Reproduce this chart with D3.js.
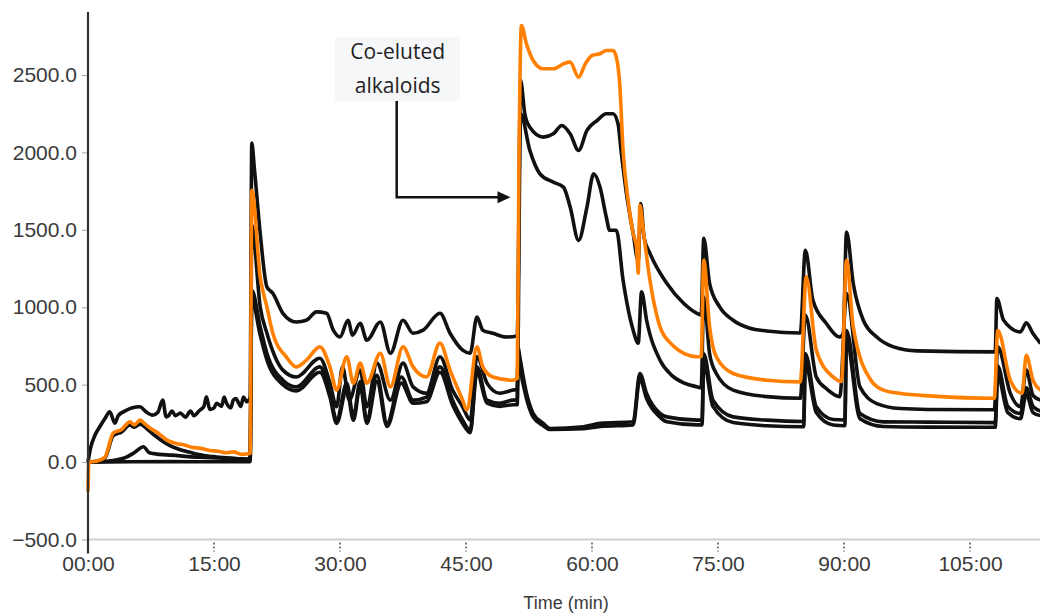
<!DOCTYPE html>
<html>
<head>
<meta charset="utf-8">
<script src="https://cdn.jsdelivr.net/npm/d3@7"></script>
<style>
	body { margin: 0; background: #fff; }
	#chart-area { width: 1040px; height: 616px; }
	.axis text { font-family: "Liberation Sans", Arial, sans-serif; font-size: 21px; fill: #3a3a3a; }
	.axis-title { font-family: "Liberation Sans", Arial, sans-serif; font-size: 18px; fill: #3a3a3a; }
	.note text { font-family: "Open Sans", sans-serif; font-size: 21px; fill: #222; }
</style>
</head>
<body>
<div id="chart-area"></div>
<script>

// [time (min), signal]
let traceTop = [
	[0,0],[0.3,90],[0.8,170],[1.4,228],[2,280],[2.6,325],[3.2,251],[3.6,300],[4.6,335],[5.2,350],[6.2,357],[6.8,330],
	[7.7,303],[8.3,320],[8.9,400],[9.3,292],[9.6,300],[10,330],[10.4,300],[11,316],[11.6,290],[12.2,330],[12.6,300],
	[13.3,335],[13.8,360],[14.1,421],[14.5,340],[15,350],[15.3,380],[15.9,360],[16.2,420],[16.5,380],[17,350],
	[17.3,400],[17.6,410],[18.2,360],[18.5,420],[18.9,390],[19.3,420],
	[19.5,2060],[19.8,1900],[20.5,1477],[21.3,1131],[22,1090],[23.2,961],[24.8,905],[26,916],[27.2,970],[28.4,961],
	[29.2,852],[30,808],[30.95,916],[31.5,820],[32.4,897],[33.2,787],[34.8,905],[36,703],[37.5,916],[38.7,832],
	[39.9,852],[41.9,961],[43.1,832],[44.6,723],[45.5,703],[46.3,937],[47,852],[48.2,832],[49.8,808],[51.1,815],
	[51.5,2465],[52,2250],[52.6,2163],[54.2,2099],[55.4,2120],[56.4,2174],[57.4,2120],[58.4,2013],[59.4,2142],
	[60.6,2206],[61.7,2250],[62.5,2250],[63.1,2185],[63.5,1992],[64.1,1734],[64.9,1477],[65.5,1300],[65.8,1670],
	[66.2,1450],[66.9,1348],[68.9,1155],[70.9,1026],[72.5,961],[73,950],
	[73.3,1445],[74,1153],[75.2,1002],[76.8,916],[78.8,864],[80.8,847],[84.8,834],
	[85.4,1368],[86.3,1045],[87.9,895],[89.5,808],[89.9,830],
	[90.3,1486],[91.1,1153],[92.3,916],[93.9,808],[95.9,744],[98.7,718],[108,712],
	[108.2,1056],[109,916],[111,841],[111.7,899],[112.5,830],[113.4,766]
];

let traceOrange = [
	[0,-190],[0.1,0],[1,5],[2,30],[3,187],[4,210],[5,260],[5.5,240],[6.2,271],[6.8,245],[7.5,215],[8.3,190],[9.4,142],
	[10.5,120],[11.5,110],[12.4,95],[13.3,90],[14.5,75],[15.5,70],[16.5,60],[17.3,66],[18.3,50],[19.3,55],
	[19.5,1755],[20.5,1195],[21.3,1002],[22,832],[23.6,680],[24.8,615],[26,658],[27.6,744],[28.8,615],[29.6,465],
	[30.8,680],[31.6,510],[32.4,639],[33.2,510],[34.8,703],[36,486],[37.5,744],[38.7,615],[40.3,550],[41.9,768],
	[43.1,594],[44.6,400],[45.1,335],[46.3,744],[47,615],[48.2,550],[50.6,529],[51.1,540],
	[51.3,1900],[51.6,2819],[52.2,2701],[53,2594],[54.2,2540],[55.4,2540],[56.6,2572],[57.4,2583],[58.4,2486],
	[59.2,2572],[60,2626],[60.95,2637],[61.7,2658],[62.5,2658],[62.9,2615],[63.3,2443],[63.7,2013],[64.3,1690],
	[64.9,1477],[65.3,1389],[65.5,1219],[65.7,1658],[66.1,1497],[66.9,1174],[68.1,873],[69.5,760],[71,700],[72.5,680],[73,680],
	[73.3,1303],[74,873],[74.8,680],[76.8,572],[80.8,529],[84.8,518],
	[85.5,1196],[86.7,723],[88.7,550],[89.7,520],
	[90.3,1303],[91.1,873],[93.2,529],[94.7,465],[96.6,444],[100.6,426],[107.9,412],
	[108.3,850],[109.8,529],[111.2,444],[111.7,690],[112.5,529],[113.4,465]
];

let traceMid = [
	[0,0],[1,5],[2,25],[3,170],[4,195],[5,240],[5.5,225],[6.2,245],[7,215],[8,170],[9,130],[10,100],[11,80],[12,65],
	[13,50],[14,40],[15,35],[16,30],[17,26],[18,20],[19.3,15],
	[19.5,1530],[20.5,1002],[21.3,832],[23.2,594],[24.8,550],[27.6,671],[28.8,510],[29.6,357],[30.3,615],[31.1,400],
	[32.4,594],[33.2,357],[34.4,639],[36,400],[37.5,639],[38.7,486],[40.3,445],[41.9,680],[43.4,465],[44.6,357],
	[45.5,271],[46.3,680],[47.5,510],[49,445],[50.6,465],[51.1,470],
	[51.5,2250],[52.6,2013],[53.8,1862],[55.4,1808],[56.6,1776],[57.4,1647],[58.4,1432],[59.4,1647],[60.2,1862],
	[60.95,1776],[61.7,1583],[62.1,1497],[62.9,1497],[63.7,1174],[64.9,852],[65.5,768],[65.9,1099],[66.5,916],
	[68.1,658],[69.5,560],[71,510],[72.5,486],[73,480],
	[73.3,1067],[74,700],[74.8,572],[76.8,465],[80.8,423],[84.8,412],
	[85.4,950],[86.7,550],[88,470],[89.5,423],
	[90.3,1088],[91.9,486],[93.9,378],[96.7,346],[100,340],[107.9,338],
	[108.3,744],[109.8,444],[111,357],[111.7,594],[112.5,430],[113.4,400]
];

let traceLow = [
	[0,0],[2,5],[3,10],[4.5,30],[5.5,60],[6.6,99],[7.3,60],[8.5,50],[10,45],[12,35],[14,30],[16,25],[19.3,20],
	[19.5,1110],[20.5,873],[21.3,703],[23.2,529],[24.8,486],[27.6,615],[28.8,445],[29.6,271],[30.8,510],[31.6,292],
	[32.4,520],[33.2,271],[34.4,560],[35.6,252],[37.3,550],[38.7,400],[40.3,420],[41.9,615],[43.4,400],[44.6,271],
	[45.5,206],[46.3,615],[47.5,400],[49,380],[50.6,400],[51.1,400],
	[51.2,744],[51.4,680],[52.2,445],[53,314],[54.2,250],[55,217],[59,228],[61,250],[64.9,260],[65.7,572],[66.5,443],
	[68.1,314],[68.9,292],[72.5,271],[73.1,271],
	[73.3,700],[74.4,400],[76.8,292],[80.8,271],[85.2,262],
	[85.4,700],[86.7,357],[88.7,275],[90.1,272],
	[90.3,850],[91.9,314],[94.7,260],[100,258],[108,255],
	[108.3,620],[109.5,360],[111,314],[111.7,480],[112.5,360],[113.4,330]
];

let traceBase = [
	[0,0],[5,2],[10,3],[15,2],[19.3,3],
	[19.5,1050],[20.5,820],[21.3,660],[23.2,500],[24.8,460],[27.6,580],[28.8,420],[29.6,250],[30.8,470],[31.6,270],
	[32.4,490],[33.2,250],[34.4,520],[35.6,230],[37.3,510],[38.7,380],[40.3,390],[41.9,580],[43.4,370],[44.6,250],
	[45.5,190],[46.3,580],[47.5,380],[49,360],[50.6,370],[51.1,370],
	[51.2,700],[51.4,620],[52.2,410],[53,290],[54.2,235],[55,210],[59,215],[61,230],[64.9,240],[65.7,540],[66.5,410],
	[68.1,290],[68.9,260],[72.5,240],[73.1,240],
	[73.3,640],[74.4,360],[76.8,255],[80.8,235],[85.2,228],
	[85.4,640],[86.7,320],[88.7,240],[90.1,235],
	[90.3,780],[91.9,280],[94.7,230],[100,226],[108,225],
	[108.3,560],[109.5,320],[111,280],[111.7,440],[112.5,320],[113.4,300]
];

let traces = [traceBase, traceLow, traceMid, traceTop, traceOrange];
let traceColors = ["#111", "#111", "#111", "#111", "#ff8000"];

let yTicks = [-500, 0, 500, 1000, 1500, 2000, 2500];
let xTicks = [0, 15, 30, 45, 60, 75, 90, 105];

let noteLines = ["Co-eluted", "alkaloids"];


class TraceChart {

	constructor(parentElement, data) {
		this.parentElement = parentElement;
		this.data = data;
		this.initVis();
	}

	initVis() {
		let vis = this;

		vis.margin = {top: 12, right: 0, bottom: 76, left: 88};
		vis.width = 1040 - vis.margin.left - vis.margin.right;
		vis.height = 616 - vis.margin.top - vis.margin.bottom;

		vis.svg = d3.select("#" + vis.parentElement).append("svg")
			.attr("width", vis.width + vis.margin.left + vis.margin.right)
			.attr("height", vis.height + vis.margin.top + vis.margin.bottom)
			.append("g")
			.attr("transform", "translate(" + vis.margin.left + "," + vis.margin.top + ")");

		vis.svg.append("defs").append("clipPath")
			.attr("id", "clip")
			.append("rect")
			.attr("x", -3)
			.attr("y", -12)
			.attr("width", vis.width + 3)
			.attr("height", vis.height + 12);

		// Scales and axes
		vis.x = d3.scaleLinear()
			.domain([0, 105])
			.range([0, 882]);

		vis.y = d3.scaleLinear()
			.domain([-500, 2500])
			.range([527.5, 63]);

		vis.xAxis = d3.axisBottom(vis.x)
			.tickValues(xTicks)
			.tickSize(0)
			.tickPadding(17)
			.tickFormat(d => String(d).padStart(2, "0") + ":00");

		vis.yAxis = d3.axisLeft(vis.y)
			.tickValues(yTicks)
			.tickSize(6)
			.tickPadding(5)
			.tickFormat(d3.format(".1f"));

		vis.line = d3.line()
			.curve(d3.curveMonotoneX)
			.x(d => vis.x(d[0]))
			.y(d => vis.y(d[1]));

		vis.updateVis();
	}

	updateVis() {
		let vis = this;
		let base = vis.y(-500);

		// light baseline at -500 across the plot
		vis.svg.append("line")
			.attr("x1", 0)
			.attr("x2", vis.width)
			.attr("y1", base)
			.attr("y2", base)
			.attr("stroke", "#cfcfcf")
			.attr("stroke-width", 2);

		// dashed tick marks under the baseline
		vis.svg.selectAll(".x-tick")
			.data(xTicks.slice(1))
			.enter().append("line")
			.attr("class", "x-tick")
			.attr("x1", d => vis.x(d))
			.attr("x2", d => vis.x(d))
			.attr("y1", base + 3)
			.attr("y2", base + 12)
			.attr("stroke", "#555")
			.attr("stroke-width", 1.5)
			.attr("stroke-dasharray", "2,2");

		let xg = vis.svg.append("g")
			.attr("class", "x-axis axis")
			.attr("transform", "translate(0," + base + ")")
			.call(vis.xAxis);
		xg.select(".domain").remove();

		let yg = vis.svg.append("g")
			.attr("class", "y-axis axis")
			.call(vis.yAxis);
		yg.select(".domain").remove();
		yg.selectAll(".tick line").attr("stroke", "#aaa");

		vis.svg.append("text")
			.attr("class", "axis-title")
			.attr("x", 478)
			.attr("y", 597)
			.attr("text-anchor", "middle")
			.text("Time (min)");

		// traces
		vis.svg.append("g")
			.attr("clip-path", "url(#clip)")
			.selectAll(".trace")
			.data(vis.data)
			.enter().append("path")
			.attr("class", "trace")
			.attr("d", vis.line)
			.attr("fill", "none")
			.attr("stroke", (d, i) => traceColors[i])
			.attr("stroke-width", 3.6)
			.attr("stroke-linejoin", "round");

		// y axis line
		vis.svg.append("line")
			.attr("x1", 0)
			.attr("x2", 0)
			.attr("y1", 0)
			.attr("y2", base + 14)
			.attr("stroke", "#333")
			.attr("stroke-width", 2.2);

		// annotation
		let note = vis.svg.append("g").attr("class", "note");
		let nx = vis.x(36.75);
		note.append("rect")
			.attr("x", nx - 62)
			.attr("y", 25)
			.attr("width", 125)
			.attr("height", 64)
			.attr("fill", "#f6f7f9");
		note.selectAll("text")
			.data(noteLines)
			.enter().append("text")
			.attr("x", nx + 1)
			.attr("y", (d, i) => 47 + i * 34)
			.attr("text-anchor", "middle")
			.text(d => d);

		let ay = vis.y(1710);
		let ax = vis.x(50.3);
		note.append("path")
			.attr("d", "M" + nx + ",89V" + ay + "H" + (ax - 11))
			.attr("fill", "none")
			.attr("stroke", "#111")
			.attr("stroke-width", 2.5);
		note.append("path")
			.attr("d", "M" + ax + "," + ay + "l-13,-6v12z")
			.attr("fill", "#111");
	}
}

new TraceChart("chart-area", traces);

</script>
</body>
</html>
